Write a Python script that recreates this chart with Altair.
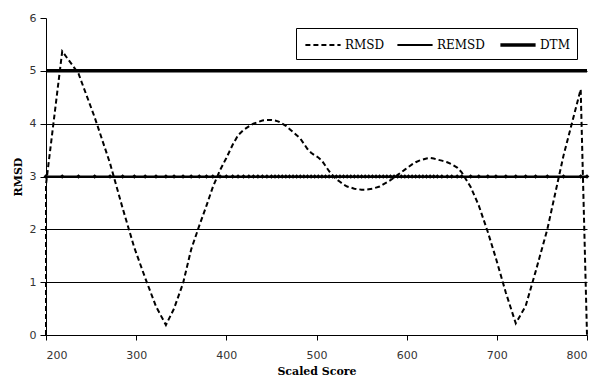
import altair as alt
import pandas as pd

# ---- data ----
scores = [200, 200, 218, 236, 254, 271, 285, 298, 310, 322, 333, 342, 352, 361, 370, 378, 385,
          393, 400, 407, 413, 419, 425, 430, 435, 440, 445, 450, 454, 458, 462, 466, 470, 474,
          478, 482, 486, 490, 494, 498, 502, 506, 510, 514, 518, 522, 526, 530, 534, 538, 542,
          546, 550, 554, 558, 562, 566, 570, 574, 578, 582, 586, 590, 594, 598, 602, 606, 610,
          614, 618, 622, 626, 630, 634, 639, 645, 650, 656, 661, 671, 680, 690, 699, 710, 721,
          732, 743, 756, 774, 793, 800]
rmsd = [0, 2.85, 5.37, 4.95, 4.12, 3.25, 2.4, 1.65, 1.08, 0.54, 0.19, 0.5, 0.98, 1.62, 2.07,
        2.45, 2.8, 3.12, 3.35, 3.6, 3.78, 3.88, 3.95, 4.0, 4.03, 4.06, 4.07, 4.07, 4.06, 4.04,
        4.0, 3.96, 3.9, 3.84, 3.78, 3.72, 3.62, 3.52, 3.45, 3.4, 3.36, 3.3, 3.2, 3.1, 3.02, 2.95,
        2.9, 2.85, 2.81, 2.79, 2.77, 2.76, 2.75, 2.75, 2.76, 2.77, 2.79, 2.81, 2.85, 2.89, 2.93,
        2.98, 3.03, 3.08, 3.13, 3.18, 3.23, 3.27, 3.3, 3.32, 3.34, 3.35, 3.34, 3.32, 3.3, 3.27,
        3.23, 3.17, 3.08, 2.8, 2.45, 1.95, 1.45, 0.8, 0.22, 0.55, 1.2, 2.0, 3.4, 4.65, 0]
remsd_value = 3.0
dtm_scores = [200, 800]
dtm_value = 5.0
series_names = ["RMSD", "REMSD", "DTM"]
x_ticks = [200, 300, 400, 500, 600, 700, 800]
y_ticks = [0, 1, 2, 3, 4, 5, 6]

rows = []
for i, (s, v) in enumerate(zip(scores, rmsd)):
    rows.append({"series": "RMSD", "score": s, "value": v, "idx": i})
for i, s in enumerate(scores):
    rows.append({"series": "REMSD", "score": s, "value": remsd_value, "idx": i})
for i, s in enumerate(dtm_scores):
    rows.append({"series": "DTM", "score": s, "value": dtm_value, "idx": i})
df = pd.DataFrame(rows)

dash_scale = alt.Scale(type="ordinal", domain=series_names, range=[[5, 3], [1, 0], [1, 0]])
width_scale = alt.Scale(type="ordinal", domain=series_names, range=[2, 1.8, 3.5])

x_enc = alt.X(
    "score:Q",
    scale=alt.Scale(domain=[200, 800], nice=False, zero=False),
    axis=alt.Axis(
        values=x_ticks, title="Scaled Score", grid=False, tickSize=5,
        labelFont="DejaVu Sans", labelFontSize=11, labelColor="#333333", labelPadding=9,
        titleFont="DejaVu Serif", titleFontSize=11, titleFontWeight="bold",
        titleColor="black", titlePadding=5, domainColor="black", tickColor="black",
    ),
)
y_enc = alt.Y(
    "value:Q",
    scale=alt.Scale(domain=[0, 6], nice=False),
    axis=alt.Axis(
        values=y_ticks, title="RMSD", grid=True, gridColor="black", gridWidth=1,
        gridOpacity={"condition": {"test": "datum.value === 6", "value": 0}, "value": 1},
        tickSize=6, labelFont="DejaVu Sans", labelFontSize=11, labelColor="#333333",
        labelPadding=4, titleFont="DejaVu Serif", titleFontSize=11, titleFontWeight="bold",
        titleColor="black", titlePadding=6, domainColor="black", tickColor="black",
    ),
)

legend = alt.Legend(
    title=None, orient="top-right", direction="horizontal", columns=3,
    offset=10, padding=7, strokeColor="black", fillColor="white",
    symbolType="M-2.2,0H2.2", symbolSize=256, symbolStrokeColor="black",
    labelFont="DejaVu Serif", labelFontSize=12, labelColor="black",
    symbolOffset=10, labelOffset=12, columnPadding=8,
)

base = alt.Chart(df)
lines = base.mark_line(color="black").encode(
    x=x_enc,
    y=y_enc,
    detail="series:N",
    strokeDash=alt.StrokeDash("series:N", scale=dash_scale, legend=legend),
    strokeWidth=alt.StrokeWidth("series:N", scale=width_scale, legend=legend),
    order="idx:Q",
)

points = base.transform_filter(alt.datum.series == "REMSD").mark_point(
    shape="diamond", filled=True, color="black", size=22, opacity=1
).encode(x="score:Q", y="value:Q")

chart = alt.layer(lines, points).properties(
    width=541, height=317,
    autosize=alt.AutoSizeParams(type="none"),
    padding={"left": 38, "top": 10, "right": 13, "bottom": 44},
    background="white",
).configure_view(stroke=None)

chart.save("out.html", embed_options={"renderer": "svg", "actions": False})
